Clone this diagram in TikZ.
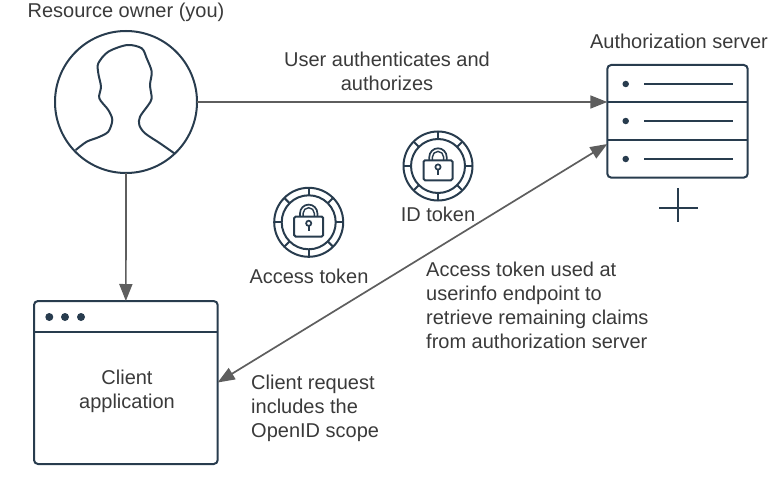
\documentclass[tikz,border=0pt]{standalone}
\usepackage{fontspec}
\usepackage{xcolor}
\setmainfont{Liberation Sans}
\usetikzlibrary{arrows.meta}
\definecolor{inkline}{HTML}{283C4E}
\definecolor{flowline}{HTML}{5E5E5E}
\definecolor{labeltext}{HTML}{3A3A3A}
\tikzset{
  shapeline/.style={draw=inkline,line width=2pt},
  flow/.style={draw=flowline,line width=1.7pt,-{Triangle[length=17pt,width=13pt]}},
  flowboth/.style={draw=flowline,line width=1.7pt,{Triangle[length=17pt,width=13pt]}-{Triangle[length=17pt,width=13pt]}},
  label/.style={text=labeltext,font=\fontsize{20}{24}\selectfont,align=center,inner sep=0pt},
  leftlabel/.style={label,align=left,anchor=west},
  panel/.style={shapeline,rectangle,rounded corners=4pt,inner sep=0pt,outer sep=0pt},
  dot/.style={circle,fill=inkline,inner sep=0pt,minimum size=6.5pt}
}
\begin{document}
\begin{tikzpicture}[x=1pt,y=-1pt]
\useasboundingbox (0,0) rectangle (778,476);
% person
\node[shapeline,circle,inner sep=0pt,outer sep=0pt,minimum size=142pt] (owner) at (126,102) {};
\draw[shapeline,line join=round] plot[smooth,tension=0.5] coordinates {
  (75.7,150) (86.7,141.7) (98.3,137.3) (108.3,131.7) (112.3,120) (108.3,110)
  (99.3,98.3) (101,86.7) (98.3,73.3) (98.3,63.3) (108.3,51.7) (127.3,45)
  (141.7,48.3) (146.7,58.3) (151.7,71.7) (150,85) (151.7,98.3) (148.3,105)
  (140,116.7) (139.3,125) (145,133.3) (160,143.3) (174.3,153.3)};
% server
\node[panel,minimum width=140.4pt,minimum height=112.7pt] (server) at (677.5,121.3) {};
\coordinate (srvtop) at (607.3,102);
\coordinate (srvlow) at (607.3,144);
\draw[shapeline] (srvtop) -- (747.7,102);
\draw[shapeline] (607.3,140.3) -- (747.7,140.3);
\foreach \y in {84,121,159}{
  \node[dot] at (625.7,\y) {};
  \draw[shapeline] (644,\y) -- (733,\y);
}
\draw[shapeline,line width=1.6pt] (659,208) -- (698,208);
\draw[shapeline,line width=1.6pt] (678,188) -- (678,222);
% client
\node[panel,minimum width=183.7pt,minimum height=163pt] (client) at (125.85,382.5) {};
\draw[shapeline] (34,332.3) -- (217.7,332.3);
\foreach \x in {49.3,65,81}
  \node[dot,minimum size=8pt] at (\x,317) {};
% tokens
\foreach \cx/\cy/\nm in {438/166/idtok,308.7/222.3/accesstok}{
  \begin{scope}[shift={(\cx,\cy)}]
    \node[shapeline,circle,inner sep=0pt,minimum size=69pt] (\nm) at (0,0) {};
    \draw[shapeline] (0,0) circle[radius=27pt];
    \foreach \a in {0,45,...,315}
      \draw[shapeline] (\a:27) -- (\a:34.5);
    \draw[shapeline,rounded corners=1.5pt] (-14.5,-5.7) rectangle (14.5,14.3);
    \draw[shapeline,line width=1.7pt] (-8.7,-5.7) -- (-8.7,-9) arc[start angle=180,end angle=0,radius=8.7pt] -- (8.7,-5.7);
    \draw[shapeline,line width=1.4pt] (-5.6,-5.7) -- (-5.6,-9) arc[start angle=180,end angle=0,radius=5.6pt] -- (5.6,-5.7);
    \draw[shapeline,line width=1.7pt] (0,1) circle[radius=2.6pt];
    \draw[shapeline,line width=1.7pt] (0,3.6) -- (0,9);
  \end{scope}
}
% connectors
\draw[flow] (owner.east) -- (srvtop);
\draw[flow] (owner.south) -- (client.north);
\draw[flowboth] (client.east) -- (srvlow);
% labels
\node[label] (ownerlbl) at (126,12) {Resource owner (you)};
\node[label] (serverlbl) at (679,41) {Authorization server};
\node[label] (authlbl) at (387,71.5) {User authenticates and\\authorizes};
\node[label] (idlbl) at (438,214) {ID token};
\node[label] (accesslbl) at (309,276) {Access token};
\node[leftlabel] (userinfolbl) at (426,305) {Access token used at\\userinfo endpoint to\\retrieve remaining claims\\from authorization server};
\node[leftlabel] (requestlbl) at (251,408.5) {Client request\\includes the\\OpenID scope};
\node[label] (clientlbl) at (127,391) {Client\\application};
\end{tikzpicture}
\end{document}
